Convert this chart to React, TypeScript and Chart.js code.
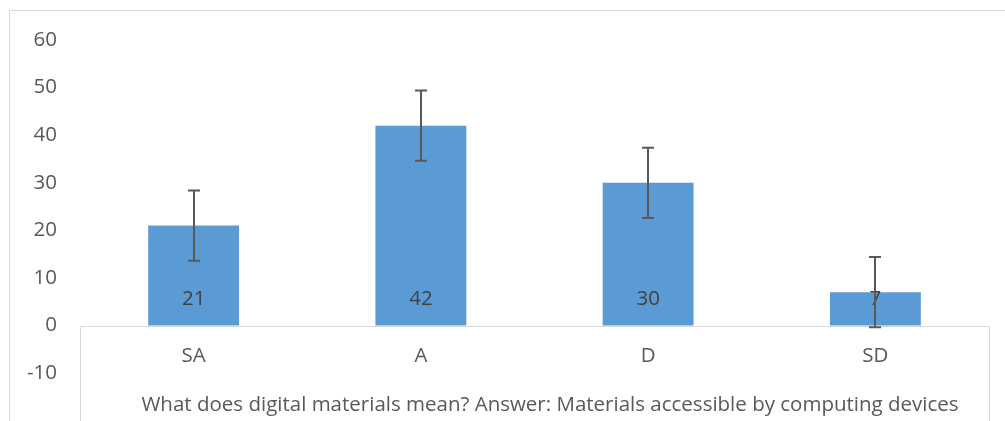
import React, { useEffect, useRef } from "react";
import { Chart, registerables } from "chart.js";

Chart.register(...registerables);

const categories = ["SA", "A", "D", "SD"];
const values = [21, 42, 30, 7];
const errors = [7.38, 7.38, 7.38, 7.38];
const yTicks = [-10, 0, 10, 20, 30, 40, 50, 60];
const axisTitle = "What does digital materials mean? Answer: Materials accessible by computing devices";

const FONT = "'Open Sans', sans-serif";
const FS = 20.5;

const decorPlugin = {
  id: "decor",
  beforeDraw(chart: any) {
    const ctx = chart.ctx;
    ctx.save();
    ctx.strokeStyle = "#d9d9d9";
    ctx.lineWidth = 1;
    ctx.beginPath();
    ctx.moveTo(9.5, 421);
    ctx.lineTo(9.5, 10.5);
    ctx.lineTo(1005, 10.5);
    ctx.stroke();
    ctx.restore();
  },
  afterDatasetsDraw(chart: any) {
    const ctx = chart.ctx;
    const y = chart.scales.y;
    const area = chart.chartArea;
    const y0 = Math.round(y.getPixelForValue(0)) + 0.5;
    ctx.save();
    ctx.strokeStyle = "#d9d9d9";
    ctx.lineWidth = 1;
    ctx.beginPath();
    ctx.moveTo(Math.round(area.left) + 0.5, 421);
    ctx.lineTo(Math.round(area.left) + 0.5, y0);
    ctx.lineTo(Math.round(area.right) + 0.5, y0);
    ctx.lineTo(Math.round(area.right) + 0.5, 421);
    ctx.stroke();

    const meta = chart.getDatasetMeta(0);
    ctx.fillStyle = "#404040";
    ctx.font = FS + "px " + FONT;
    ctx.textAlign = "center";
    ctx.textBaseline = "middle";
    meta.data.forEach((bar: any, i: number) => {
      ctx.fillText(String(values[i]), bar.x, y.getPixelForValue(0) - 26);
    });
    ctx.strokeStyle = "#595959";
    ctx.lineWidth = 2;
    meta.data.forEach((bar: any, i: number) => {
      const top = y.getPixelForValue(values[i] + errors[i]);
      const bot = y.getPixelForValue(values[i] - errors[i]);
      const x = Math.round(bar.x);
      ctx.beginPath();
      ctx.moveTo(x, top);
      ctx.lineTo(x, bot);
      ctx.moveTo(x - 6, top);
      ctx.lineTo(x + 6, top);
      ctx.moveTo(x - 6, bot);
      ctx.lineTo(x + 6, bot);
      ctx.stroke();
    });
    ctx.fillStyle = "#595959";
    ctx.font = FS + "px " + FONT;
    ctx.textAlign = "center";
    ctx.textBaseline = "middle";
    ctx.fillText(axisTitle, 550, 405);
    ctx.restore();
  },
};

export default function App() {
  const ref = useRef<HTMLCanvasElement>(null);
  useEffect(() => {
    if (!ref.current) return;
    const chart = new Chart(ref.current, {
      type: "bar",
      data: {
        labels: categories,
        datasets: [
          {
            data: values,
            backgroundColor: "#5b9bd5",
            categoryPercentage: 1,
            barPercentage: 0.4,
          },
        ],
      },
      options: {
        animation: false,
        responsive: false,
        devicePixelRatio: 1,
        layout: { padding: { left: 0, top: 40, right: 16, bottom: 1 } },
        plugins: { legend: { display: false }, tooltip: { enabled: false } },
        scales: {
          x: {
            position: { y: 0 } as any,
            grid: { display: false, drawTicks: false },
            border: { display: false },
            afterFit: (s: any) => {
              s.height = 0;
            },
            ticks: { color: "#595959", font: { family: FONT, size: FS }, padding: 18 },
          },
          y: {
            min: -20,
            max: 60,
            grid: { display: false, drawTicks: false },
            border: { display: false },
            afterBuildTicks: (s: any) => {
              s.ticks = yTicks.map((v) => ({ value: v }));
            },
            afterFit: (s: any) => {
              s.width = 80;
            },
            ticks: { color: "#595959", font: { family: FONT, size: FS }, padding: 23 },
          },
        },
      },
      plugins: [decorPlugin],
    });
    return () => chart.destroy();
  }, []);
  return (
    <div style={{ position: "absolute", left: 0, top: 0, width: 1005, height: 421, overflow: "hidden", background: "#fff" }}>
      <canvas ref={ref} width={1005} height={456} style={{ display: "block" }} />
    </div>
  );
}
